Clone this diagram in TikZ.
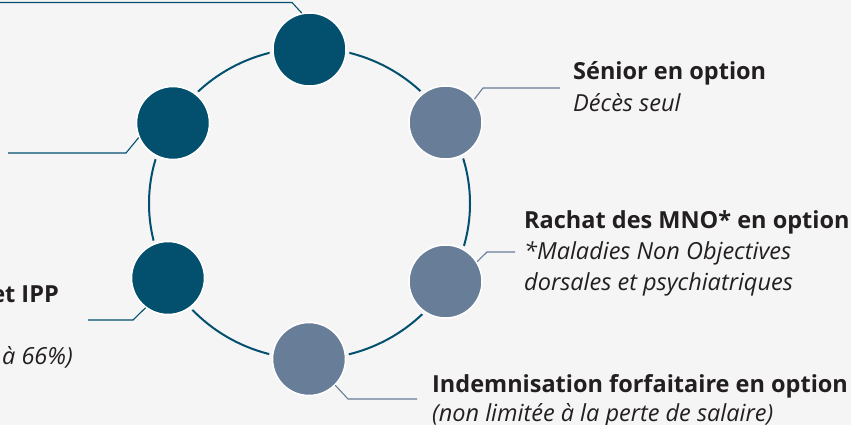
\documentclass[tikz,border=0pt]{standalone}
\usepackage{fontspec}
\setmainfont{Open Sans}
\definecolor{bgc}{HTML}{F5F5F5}
\definecolor{darkc}{HTML}{02506E}
\definecolor{lightc}{HTML}{687D98}
\definecolor{txtc}{HTML}{231F20}
\tikzset{
  halo/.style={preaction={draw=bgc, line width=7pt}},
  dot/.style={circle, minimum size=73pt, inner sep=0pt, draw=white, line width=1.5pt, halo},
  darkdot/.style={dot, fill=darkc},
  lightdot/.style={dot, fill=lightc},
  darkline/.style={draw=darkc, line width=1.1pt},
  lightline/.style={draw=lightc, line width=1.1pt},
  ttl/.style={font=\fontsize{23.5}{28}\selectfont\bfseries, text=txtc, inner sep=0pt},
  sub/.style={font=\fontsize{23.5}{28}\selectfont\itshape, text=txtc, inner sep=0pt},
}
\begin{document}
\begin{tikzpicture}[x=1pt,y=-1pt]
\fill[bgc] (0,0) rectangle (851,425);
\useasboundingbox (0,0) rectangle (851,425);
\clip (0,0) rectangle (851,425);
% ring
\draw[darkc, line width=2pt] (309.5,203.5) ellipse [x radius=160.5pt, y radius=155.5pt];
% circles
\node[darkdot]  (T)  at (309.5,49.5) {};
\node[darkdot]  (UL) at (173,123) {};
\node[darkdot]  (LL) at (168,278) {};
\node[lightdot] (B)  at (309,359) {};
\node[lightdot] (UR) at (445.5,122.5) {};
\node[lightdot] (LR) at (445.5,281.5) {};
% connectors
\coordinate (tA) at (0,2.5);   \coordinate (tB) at (292,2.5);
\coordinate (ulA) at (8,153);  \coordinate (ulB) at (126,153);
\coordinate (llA) at (88,320); \coordinate (llB) at (133,320);
\coordinate (bA) at (417,399); \coordinate (bB) at (348,399);
\coordinate (urA) at (560,88); \coordinate (urB) at (483,88);
\coordinate (lrA) at (515,252);\coordinate (lrB) at (487,252);
\draw[darkline] (tA) -- (tB) -- (T.102);
\draw[darkline] (ulA) -- (ulB) -- (UL.203);
\draw[darkline] (llA) -- (llB) -- (LL.233);
\draw[lightline] (bA) -- (bB) -- (B.315);
\draw[lightline] (urA) -- (urB) -- (UR.39);
\draw[lightline] (lrA) -- (lrB) -- (LR.32);
% texts
\node[ttl, anchor=base west] (t1) at (573,80) {Sénior en option};
\node[sub, anchor=base west] (s1) at (573,112) {Décès seul};
\node[ttl, anchor=base west] (t2) at (524,228) {Rachat des MNO* en option};
\node[sub, anchor=base west] (s2) at (524,259) {*Maladies Non Objectives};
\node[sub, anchor=base west] (s3) at (524,290) {dorsales et psychiatriques};
\node[ttl, anchor=base west] (t3) at (432,392) {Indemnisation forfaitaire en option};
\node[sub, anchor=base west] (s4) at (432,421) {(non limitée à la perte de salaire)};
\node[ttl, anchor=base east] (t4) at (59,302) {et IPP};
\node[sub, anchor=base east] (s5) at (73,364) {à 66\%)};
\end{tikzpicture}
\end{document}
